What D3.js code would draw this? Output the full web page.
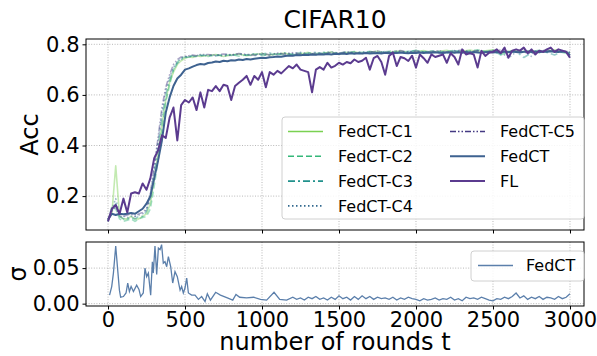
<!DOCTYPE html>
<html>
<head>
<meta charset="utf-8">
<script src="https://cdn.jsdelivr.net/npm/d3@7"></script>
<style>
  body { margin: 0; background: #fff; }
  svg { font-family: "DejaVu Sans", sans-serif; }
  .grid line { stroke: #b0b0b0; stroke-dasharray: 1,1.6; stroke-width: 0.9; }
  .axis text { font-family: "DejaVu Sans", sans-serif; font-size: 21px; fill: #000; }
  .axis path, .axis line { stroke: #000; }
</style>
</head>
<body>
<div class="chart"></div>
<script>
// rounds for FL / FedCT (every 25)
const rounds = d3.range(0, 3001, 25);
// rounds for the per-client curves
const roundsC = d3.range(0, 601, 25).concat(d3.range(650, 3001, 50));

const fl = [
  0.10, 0.15, 0.165, 0.13, 0.19, 0.135, 0.21, 0.215, 0.21, 0.25,
  0.225, 0.27, 0.35, 0.38, 0.44, 0.43, 0.51, 0.55, 0.42, 0.56,
  0.58, 0.57, 0.59, 0.54, 0.61, 0.55, 0.62, 0.615, 0.635, 0.615,
  0.64, 0.635, 0.58, 0.635, 0.648, 0.66, 0.675, 0.64, 0.675, 0.66,
  0.69, 0.63, 0.69, 0.68, 0.695, 0.685, 0.70, 0.714, 0.705, 0.72,
  0.70, 0.695, 0.69, 0.61, 0.70, 0.71, 0.70, 0.727, 0.708, 0.715,
  0.727, 0.72, 0.73, 0.725, 0.74, 0.73, 0.735, 0.747, 0.70, 0.745,
  0.754, 0.73, 0.68, 0.754, 0.767, 0.714, 0.75, 0.745, 0.734, 0.755,
  0.708, 0.76, 0.745, 0.727, 0.76, 0.75, 0.755, 0.76, 0.727, 0.765,
  0.75, 0.72, 0.78, 0.76, 0.765, 0.76, 0.708, 0.774, 0.754, 0.767,
  0.77, 0.78, 0.765, 0.787, 0.747, 0.775, 0.78, 0.775, 0.787, 0.765,
  0.78, 0.76, 0.775, 0.77, 0.78, 0.787, 0.77, 0.78, 0.775, 0.77,
  0.747
];

const fedct = [
  0.107, 0.13, 0.125, 0.13, 0.128, 0.13, 0.133, 0.13, 0.14, 0.15,
  0.17, 0.2, 0.27, 0.34, 0.42, 0.53, 0.59, 0.635, 0.665, 0.68,
  0.70, 0.705, 0.712, 0.718, 0.722, 0.72, 0.726, 0.728, 0.732, 0.73,
  0.735, 0.733, 0.737, 0.736, 0.74, 0.738, 0.742, 0.74, 0.743, 0.745,
  0.747, 0.746, 0.749, 0.75, 0.752, 0.751, 0.754, 0.756, 0.755, 0.758,
  0.757, 0.759, 0.758, 0.76, 0.759, 0.761, 0.76, 0.762, 0.76, 0.763,
  0.762, 0.764, 0.762, 0.765, 0.763, 0.765, 0.764, 0.766, 0.764, 0.765,
  0.766, 0.764, 0.767, 0.765, 0.767, 0.766, 0.768, 0.766, 0.765, 0.767,
  0.766, 0.768, 0.766, 0.768, 0.767, 0.769, 0.767, 0.766, 0.768, 0.769,
  0.767, 0.769, 0.767, 0.77, 0.768, 0.77, 0.768, 0.767, 0.769, 0.771,
  0.768, 0.77, 0.767, 0.771, 0.769, 0.772, 0.77, 0.768, 0.771, 0.772,
  0.77, 0.772, 0.769, 0.772, 0.771, 0.773, 0.771, 0.77, 0.772, 0.77,
  0.757
];

const c1 = [
  0.11, 0.13, 0.32, 0.12, 0.11, 0.11, 0.12, 0.11, 0.11, 0.12, 0.13, 0.17, 0.27,
  0.37, 0.48, 0.58, 0.65, 0.69, 0.72, 0.735, 0.745, 0.75, 0.748, 0.755, 0.752,
  0.756, 0.76, 0.752, 0.758, 0.762, 0.755, 0.76, 0.764, 0.758, 0.762,
  0.765, 0.758, 0.762, 0.768, 0.76, 0.765, 0.77, 0.762, 0.766, 0.77,
  0.764, 0.768, 0.772, 0.765, 0.77, 0.774, 0.766, 0.77, 0.775, 0.768,
  0.772, 0.776, 0.768, 0.772, 0.777, 0.77, 0.774, 0.778, 0.765, 0.772,
  0.776, 0.77, 0.775, 0.768, 0.774, 0.778, 0.772, 0.765
];
const c2 = [
  0.10, 0.16, 0.15, 0.11, 0.10, 0.105, 0.11, 0.10, 0.11, 0.115, 0.12, 0.15, 0.24,
  0.34, 0.46, 0.57, 0.64, 0.70, 0.73, 0.745, 0.75, 0.752, 0.755, 0.75, 0.758,
  0.752, 0.758, 0.755, 0.76, 0.753, 0.758, 0.762, 0.756, 0.76, 0.764,
  0.758, 0.762, 0.766, 0.76, 0.764, 0.768, 0.762, 0.766, 0.77, 0.764,
  0.768, 0.772, 0.766, 0.77, 0.774, 0.768, 0.772, 0.776, 0.77, 0.774,
  0.768, 0.772, 0.776, 0.77, 0.774, 0.778, 0.772, 0.776, 0.758, 0.77,
  0.774, 0.768, 0.772, 0.776, 0.77, 0.774, 0.768, 0.762
];
const c3 = [
  0.105, 0.14, 0.17, 0.12, 0.11, 0.11, 0.115, 0.11, 0.12, 0.12, 0.14, 0.19, 0.29,
  0.40, 0.51, 0.60, 0.66, 0.70, 0.725, 0.74, 0.748, 0.75, 0.755, 0.752, 0.756,
  0.758, 0.754, 0.76, 0.756, 0.762, 0.758, 0.755, 0.762, 0.766, 0.76,
  0.764, 0.76, 0.758, 0.765, 0.769, 0.763, 0.767, 0.762, 0.766, 0.771,
  0.766, 0.77, 0.765, 0.772, 0.768, 0.764, 0.771, 0.775, 0.769, 0.773,
  0.77, 0.766, 0.774, 0.77, 0.762, 0.775, 0.769, 0.773, 0.76, 0.767,
  0.771, 0.748, 0.766, 0.774, 0.768, 0.758, 0.772, 0.766
];
const c4 = [
  0.10, 0.15, 0.19, 0.13, 0.12, 0.115, 0.12, 0.12, 0.125, 0.13, 0.145, 0.20, 0.31,
  0.42, 0.53, 0.62, 0.67, 0.71, 0.73, 0.745, 0.75, 0.753, 0.75, 0.757, 0.755,
  0.755, 0.759, 0.753, 0.757, 0.761, 0.757, 0.763, 0.759, 0.755, 0.762,
  0.766, 0.762, 0.768, 0.764, 0.76, 0.767, 0.771, 0.765, 0.769, 0.765,
  0.771, 0.767, 0.773, 0.769, 0.765, 0.772, 0.768, 0.774, 0.77, 0.766,
  0.773, 0.769, 0.775, 0.771, 0.767, 0.774, 0.77, 0.776, 0.772, 0.745,
  0.77, 0.774, 0.752, 0.772, 0.776, 0.77, 0.773, 0.768
];
const c5 = [
  0.11, 0.14, 0.16, 0.12, 0.12, 0.125, 0.13, 0.12, 0.13, 0.135, 0.15, 0.21, 0.32,
  0.43, 0.55, 0.63, 0.68, 0.72, 0.74, 0.75, 0.752, 0.755, 0.758, 0.755, 0.76,
  0.76, 0.756, 0.762, 0.758, 0.764, 0.76, 0.757, 0.763, 0.759, 0.765,
  0.761, 0.767, 0.763, 0.759, 0.766, 0.762, 0.768, 0.764, 0.77, 0.766,
  0.763, 0.769, 0.773, 0.767, 0.771, 0.775, 0.769, 0.773, 0.767, 0.771,
  0.775, 0.769, 0.773, 0.777, 0.771, 0.775, 0.769, 0.773, 0.777, 0.771,
  0.775, 0.769, 0.764, 0.773, 0.777, 0.771, 0.775, 0.77
];

// std of FedCT across clients
const sigmaRounds = [
  10, 24, 35, 50, 61, 74, 82, 100, 117, 128, 139, 150, 165, 186, 201, 212, 229,
  240, 251, 262, 277, 288, 294, 305, 316, 327, 338, 348, 359, 370, 381, 392, 407,
  420, 435, 450, 468, 478, 489, 500, 511, 522, 543, 565, 587, 608, 630, 645, 665,
  699, 730, 775, 810, 831, 855, 900, 945, 990, 1030, 1078, 1115, 1160, 1200
].concat(d3.range(1225, 3001, 25));
const sigmaValues = [
  0.012, 0.024, 0.043, 0.081, 0.052, 0.019, 0.009, 0.010, 0.015, 0.029, 0.017,
  0.024, 0.017, 0.026, 0.020, 0.010, 0.015, 0.050, 0.038, 0.043, 0.012, 0.059,
  0.043, 0.081, 0.041, 0.078, 0.076, 0.083, 0.057, 0.059, 0.052, 0.066, 0.052,
  0.029, 0.045, 0.038, 0.019, 0.024, 0.015, 0.022, 0.036, 0.015, 0.012, 0.012,
  0.006, 0.010, 0.003, 0.014, 0.005, 0.016, 0.012, 0.008, 0.005, 0.013, 0.009,
  0.008, 0.009, 0.006, 0.005, 0.016, 0.006, 0.005, 0.009,
  0.006, 0.008, 0.005, 0.009, 0.007, 0.010, 0.006, 0.008, 0.005, 0.009,
  0.006, 0.011, 0.007, 0.009, 0.005, 0.010, 0.006, 0.011, 0.007, 0.010,
  0.006, 0.009, 0.007, 0.008, 0.006, 0.009, 0.005, 0.008, 0.006, 0.009,
  0.007, 0.006, 0.004, 0.007, 0.005, 0.006, 0.008, 0.005, 0.007, 0.006,
  0.009, 0.005, 0.007, 0.004, 0.009, 0.007, 0.008, 0.006, 0.009, 0.007,
  0.005, 0.004, 0.007, 0.006, 0.009, 0.007, 0.010, 0.015, 0.008, 0.011,
  0.006, 0.009, 0.007, 0.010, 0.006, 0.009, 0.008, 0.006, 0.010, 0.007,
  0.009, 0.014
];

const xTicks = [0, 500, 1000, 1500, 2000, 2500, 3000];
const accTicks = [0.2, 0.4, 0.6, 0.8];
const sigmaTicks = [0, 0.05];

const series = [
  {name: "FedCT-C1", x: roundsC, y: c1, color: "#7ad151", dash: null, w: 1.6, op: 0.45},
  {name: "FedCT-C2", x: roundsC, y: c2, color: "#35b779", dash: "6,3", w: 1.6, op: 0.45},
  {name: "FedCT-C3", x: roundsC, y: c3, color: "#21918c", dash: "7,3,2,3", w: 1.6, op: 0.45},
  {name: "FedCT-C4", x: roundsC, y: c4, color: "#31688e", dash: "1.5,2.5", w: 1.6, op: 0.45},
  {name: "FedCT-C5", x: roundsC, y: c5, color: "#443a83", dash: "6,2,1.5,2,1.5,2", w: 1.6, op: 0.45},
  {name: "FedCT", x: rounds, y: fedct, color: "#3e6290", dash: null, w: 2, op: 1},
  {name: "FL", x: rounds, y: fl, color: "#5b3b8f", dash: null, w: 2, op: 1}
];

const W = 597, H = 356;
const svg = d3.select(".chart").append("svg").attr("width", W).attr("height", H);

const x = d3.scaleLinear().domain([-143, 3091]).range([86, 584]);
const yTop = d3.scaleLinear().domain([0.066, 0.821]).range([230, 39]);
const yBot = d3.scaleLinear().domain([-0.0033, 0.0867]).range([306, 242]);

function panel(y, ticks, fmt, showX) {
  const g = svg.append("g");
  const [y0, y1] = y.range();
  g.append("g").attr("class", "grid").selectAll("line").data(xTicks).join("line")
    .attr("x1", d => x(d)).attr("x2", d => x(d)).attr("y1", y1).attr("y2", y0);
  g.append("g").attr("class", "grid").selectAll("line").data(ticks).join("line")
    .attr("x1", 86).attr("x2", 584).attr("y1", d => y(d)).attr("y2", d => y(d));
  g.append("g").attr("class", "axis").attr("transform", `translate(0,${y0})`)
    .call(d3.axisBottom(x).tickValues(xTicks).tickSize(3.5).tickPadding(3)
      .tickFormat(showX ? d3.format("d") : ""))
    .call(a => a.select(".domain").remove());
  g.append("g").attr("class", "axis").attr("transform", "translate(86,0)")
    .call(d3.axisLeft(y).tickValues(ticks).tickSize(3.5).tickPadding(3).tickFormat(fmt))
    .call(a => a.select(".domain").remove());
  return g;
}

panel(yTop, accTicks, d3.format(".1f"), false);
panel(yBot, sigmaTicks, d3.format(".2f"), true);

const clip = svg.append("defs");
clip.append("clipPath").attr("id", "ct").append("rect").attr("x", 86).attr("y", 39).attr("width", 498).attr("height", 191);
clip.append("clipPath").attr("id", "cb").append("rect").attr("x", 86).attr("y", 242).attr("width", 498).attr("height", 64);

const lines = svg.append("g").attr("clip-path", "url(#ct)");
series.forEach(s => {
  const line = d3.line().x((d, i) => x(s.x[i])).y(d => yTop(d));
  lines.append("path").datum(s.y)
    .attr("d", line).attr("fill", "none")
    .attr("stroke", s.color).attr("stroke-width", s.w)
    .attr("stroke-opacity", s.op)
    .attr("stroke-linejoin", "round")
    .attr("stroke-dasharray", s.dash);
});

svg.append("g").attr("clip-path", "url(#cb)").append("path")
  .datum(sigmaValues)
  .attr("d", d3.line().x((d, i) => x(sigmaRounds[i])).y(d => yBot(d)))
  .attr("fill", "none").attr("stroke", "#5b7fab").attr("stroke-width", 1.3);

// frames
svg.append("rect").attr("x", 86).attr("y", 39).attr("width", 498).attr("height", 191)
  .attr("fill", "none").attr("stroke", "#000").attr("stroke-width", 1);
svg.append("rect").attr("x", 86).attr("y", 242).attr("width", 498).attr("height", 64)
  .attr("fill", "none").attr("stroke", "#000").attr("stroke-width", 1);

// legend (top)
const lg = svg.append("g");
lg.append("rect").attr("x", 282).attr("y", 117).attr("width", 302).attr("height", 102)
  .attr("rx", 3).attr("fill", "#fff").attr("fill-opacity", 0.85)
  .attr("stroke", "#d0d0d0");
series.forEach((s, i) => {
  const col = i < 4 ? 0 : 1;
  const row = i < 4 ? i : i - 4;
  const lx = col ? 450 : 288;
  const ly = 131.5 + row * 24.8;
  lg.append("line").attr("x1", lx).attr("x2", lx + 35).attr("y1", ly).attr("y2", ly)
    .attr("stroke", s.color).attr("stroke-width", s.w)
    .attr("stroke-dasharray", s.dash);
  lg.append("text").attr("x", lx + 50).attr("y", ly).attr("dy", "0.36em")
    .attr("font-size", 16).text(s.name);
});

// legend (bottom)
svg.append("rect").attr("x", 471).attr("y", 251).attr("width", 113).attr("height", 30)
  .attr("rx", 3).attr("fill", "#fff").attr("fill-opacity", 0.85).attr("stroke", "#d0d0d0");
svg.append("line").attr("x1", 478).attr("x2", 513).attr("y1", 265.5).attr("y2", 265.5)
  .attr("stroke", "#5b7fab").attr("stroke-width", 1.3);
svg.append("text").attr("x", 526).attr("y", 265.5).attr("dy", "0.36em")
  .attr("font-size", 16).text("FedCT");

// titles and labels
svg.append("text").attr("x", 335).attr("y", 28).attr("text-anchor", "middle")
  .attr("font-size", 25).text("CIFAR10");
svg.append("text").attr("transform", "translate(38,134.5) rotate(-90)")
  .attr("text-anchor", "middle").attr("font-size", 24).text("Acc");
svg.append("text").attr("transform", "translate(26,274) rotate(-90)")
  .attr("text-anchor", "middle").attr("font-size", 24).text("σ");
svg.append("text").attr("x", 335).attr("y", 350).attr("text-anchor", "middle")
  .attr("font-size", 24).text("number of rounds t");
</script>
</body>
</html>
